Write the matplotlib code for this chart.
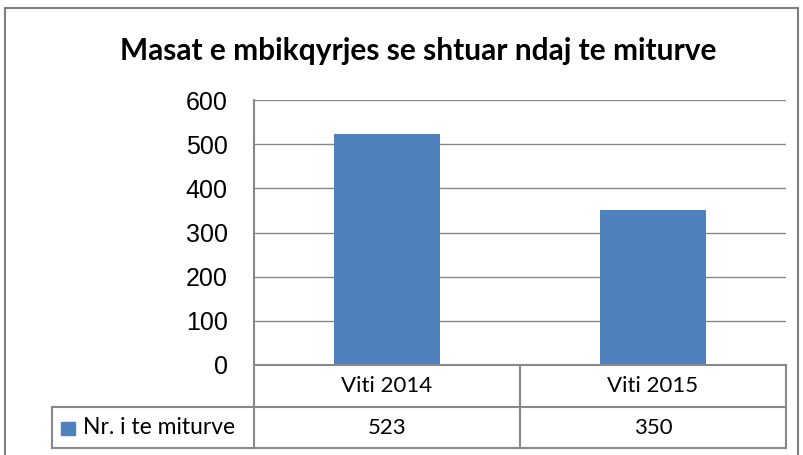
import matplotlib.pyplot as plt
from matplotlib.lines import Line2D
from matplotlib.patches import Rectangle

categories = ["Viti 2014", "Viti 2015"]
values = [523, 350]
series_name = "Nr. i te miturve"
title = "Masat e mbikqyrjes se shtuar ndaj te miturve"
yticks = [0, 100, 200, 300, 400, 500, 600]

W, H = 804, 455
BAR = "#4F81BD"
GRID = "#888888"


def fx(x):
    return x / W


def fy(y):
    return 1 - y / H


fig = plt.figure(figsize=(W / 100, H / 100), dpi=100)

# plot area in pixels
L, R, T, B = 254, 786, 100, 365
ax = fig.add_axes([fx(L), fy(B), (R - L) / W, (B - T) / H])
x = range(len(categories))
ax.bar(x, values, width=0.4, color=BAR, zorder=3)
ax.set_xlim(-0.5, len(categories) - 0.5)
ax.set_ylim(0, 600)
ax.set_yticks(yticks)
ax.set_yticklabels([str(v) for v in yticks], fontsize=18, family="Liberation Sans")
ax.tick_params(axis="y", length=0, pad=19)
ax.set_xticks([])
ax.grid(axis="y", color=GRID, linewidth=1, zorder=0)
for s in ["top", "right", "bottom", "left"]:
    ax.spines[s].set_visible(False)

# outer chart border
fig.add_artist(Rectangle((fx(5), fy(470)), (798 - 5) / W, (470 - 8) / H,
                         transform=fig.transFigure, fill=False,
                         edgecolor="#7f7f7f", linewidth=1.5))

fig.text(fx(418), fy(51), title, ha="center", va="center",
         fontsize=21.5, fontweight="bold", family="Lato")

# data table lines
row1, row2, row3 = 365, 407, 448
mid = (L + R) / 2
segs = [
    ((L, R), (row1, row1)),
    ((52, R), (row2, row2)),
    ((52, R), (row3, row3)),
    ((52, 52), (row2, row3)),
    ((L, L), (T, row3)),
    ((mid, mid), (row1, row3)),
    ((R, R), (row1, row3)),
]
for xs, ys in segs:
    fig.add_artist(Line2D([fx(v) for v in xs], [fy(v) for v in ys],
                          transform=fig.transFigure, color=GRID, linewidth=1.5))

colw = (R - L) / len(categories)
for i, (c, v) in enumerate(zip(categories, values)):
    cx = L + colw * (i + 0.5)
    fig.text(fx(cx), fy((row1 + row2) / 2), c, ha="center", va="center",
             fontsize=16, family="Lato")
    fig.text(fx(cx), fy((row2 + row3) / 2), str(v), ha="center", va="center",
             fontsize=16, family="Lato")

fig.add_artist(Rectangle((fx(61), fy(435)), 14 / W, 13 / H,
                         transform=fig.transFigure, color=BAR))
fig.text(fx(83), fy((row2 + row3) / 2), series_name, ha="left", va="center",
         fontsize=16.5, family="Lato")

fig.savefig("out.png", dpi=100)
